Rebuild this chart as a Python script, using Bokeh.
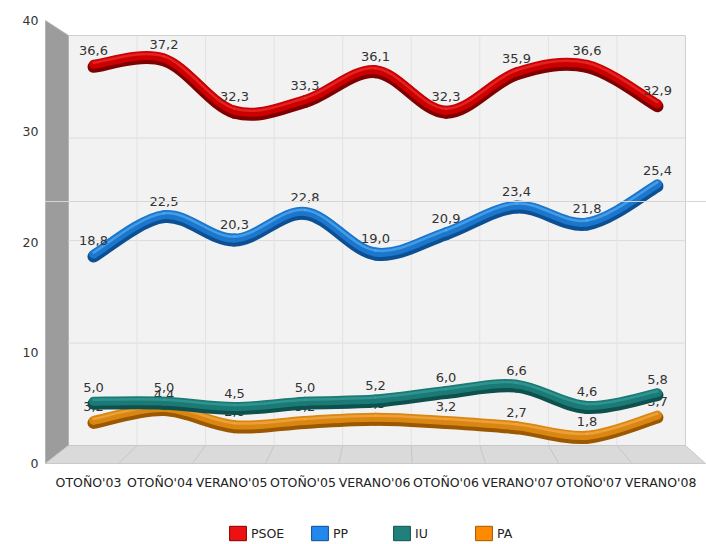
import numpy as np
from bokeh.plotting import figure
from bokeh.layouts import column
from bokeh.models import (FixedTicker, Legend, LegendItem, Range1d, LinearAxis,
                          Span, ColumnDataSource)
from bokeh.core.properties import value
from bokeh.embed import file_html
from bokeh.resources import INLINE

# ---------------- data ----------------
categories = ["OTOÑO'03", "OTOÑO'04", "VERANO'05", "OTOÑO'05", "VERANO'06",
              "OTOÑO'06", "VERANO'07", "OTOÑO'07", "VERANO'08"]
psoe = [36.6, 37.2, 32.3, 33.3, 36.1, 32.3, 35.9, 36.6, 32.9]
pp = [18.8, 22.5, 20.3, 22.8, 19.0, 20.9, 23.4, 21.8, 25.4]
iu = [5.0, 5.0, 4.5, 5.0, 5.2, 6.0, 6.6, 4.6, 5.8]
pa = [3.2, 4.4, 2.8, 3.2, 3.5, 3.2, 2.7, 1.8, 3.7]
y_ticks = [0, 10, 20, 30, 40]
series_names = ["PSOE", "PP", "IU", "PA"]

# ---------------- geometry / style ----------------
X0, X1, Y0, Y1 = -0.695, 8.695, -1.50, 41.46
# 3D box: back wall and front edge in data units
XB0, XB1, YB0, YB1 = -0.355, 8.397, 0.84, 39.30
XF0, XF1, YF0, YF1 = -0.681, 8.68, -0.84, 40.70
FRONT_A, FRONT_S = -0.84, (YF1 - YF0) / 40.0
FX_A, FX_S = 5.0 / 71.5, 70.5 / 71.5   # front-edge category spacing
PXY = (Y1 - Y0) / 458.0   # data units per pixel (vertical)

p = figure(width=706, height=506, x_range=Range1d(X0, X1),
           y_range=Range1d(Y0, Y1), output_backend="svg", toolbar_location=None,
           x_axis_location=None, y_axis_location=None, min_border_left=44,
           min_border_right=0, min_border_top=12, min_border_bottom=36)
p.outline_line_color = None
p.grid.visible = False
p.background_fill_color = "white"

# front-scale axes for the tick labels
p.extra_y_ranges = {"front": Range1d((Y0 - FRONT_A) / FRONT_S, (Y1 - FRONT_A) / FRONT_S)}
p.extra_x_ranges = {"front": Range1d(FX_A + FX_S * X0, FX_A + FX_S * X1)}
yax = LinearAxis(y_range_name="front", ticker=FixedTicker(ticks=y_ticks))
yax.axis_line_color = None
yax.major_tick_line_color = None
yax.minor_tick_line_color = None
yax.major_tick_out = 0
yax.major_tick_in = 0
yax.major_label_text_font = "DejaVu Sans"
yax.major_label_text_font_size = "12.5px"
yax.major_label_text_color = "#333333"
yax.major_label_standoff = 6
p.add_layout(yax, "left")

xax = LinearAxis(x_range_name="front", ticker=FixedTicker(ticks=list(range(len(categories)))))
xax.major_label_overrides = {i: c for i, c in enumerate(categories)}
xax.axis_line_color = None
xax.major_tick_line_color = None
xax.minor_tick_line_color = None
xax.major_tick_out = 0
xax.major_tick_in = 0
xax.major_label_text_font = "DejaVu Sans"
xax.major_label_text_font_size = "12.5px"
xax.major_label_text_color = "#222222"
xax.major_label_standoff = 4
p.add_layout(xax, "below")

# back wall
p.quad(left=[XB0], right=[XB1], bottom=[YB0], top=[YB1], fill_color="#f2f2f2",
       line_color="#d0d0d0", line_width=1)
# side wall
p.patch([XF0, XF0, XB0, XB0], [YF0, YF1, YB1, YB0], fill_color="#9c9c9c",
        line_color="#b4b4b4", line_width=1)
# floor
p.patch([XB0, XB1, XF1, XF0], [YB0, YB0, YF0, YF0], fill_color="#dadada",
        line_color="#c8c8c8", line_width=1)
# horizontal gridlines on back wall
for v in y_ticks[1:-1]:
    yy = YB0 + v * (YB1 - YB0) / 40.0
    p.line([XB0, XB1], [yy, yy], line_color="#dcdcdc", line_width=1)
# vertical gridlines + floor diagonals
n = len(categories)
for k in range(1, n):
    xb = XB0 + k * (XB1 - XB0) / n
    xf = XF0 + k * (XF1 - XF0) / n
    p.line([xb, xb], [YB0, YB1], line_color="#e2e2e2", line_width=1)
    p.line([xb, xf], [YB0, YF0], line_color="#c6c6c6", line_width=1)


def bez(vals):
    xs = list(range(len(vals)))
    P = list(zip(xs, vals))
    m = len(P)
    out = dict(x0=[], y0=[], x1=[], y1=[], cx0=[], cy0=[], cx1=[], cy1=[])
    for i in range(m - 1):
        pm = P[i - 1] if i > 0 else P[i]
        p0, p1 = P[i], P[i + 1]
        p2 = P[i + 2] if i + 2 < m else P[i + 1]
        out["x0"].append(p0[0]); out["y0"].append(p0[1])
        out["x1"].append(p1[0]); out["y1"].append(p1[1])
        out["cx0"].append(p0[0] + (p1[0] - pm[0]) / 6.0)
        out["cy0"].append(p0[1] + (p1[1] - pm[1]) / 6.0)
        out["cx1"].append(p1[0] - (p2[0] - p0[0]) / 6.0)
        out["cy1"].append(p1[1] - (p2[1] - p0[1]) / 6.0)
    return out


def shifted(d, dy):
    return {k: ([y + dy for y in v] if k.startswith(("y", "cy")) else v) for k, v in d.items()}


styles = {
    "PSOE": dict(vals=psoe, dark="#7e0000", main="#cc0000", light="#ec3030", leg="#ee1111"),
    "PP": dict(vals=pp, dark="#0c4f92", main="#1c76cc", light="#52aef5", leg="#2288ee"),
    "IU": dict(vals=iu, dark="#0d504d", main="#1b7a76", light="#38a09a", leg="#21807a"),
    "PA": dict(vals=pa, dark="#9c5800", main="#d98612", light="#f5ab45", leg="#ff8a00"),
}

for name in ["PSOE", "PP", "PA", "IU"]:
    s = styles[name]
    d = bez(s["vals"])
    p.bezier(source=ColumnDataSource(shifted(d, -2.5 * PXY)), x0="x0", y0="y0", x1="x1",
             y1="y1", cx0="cx0", cy0="cy0", cx1="cx1", cy1="cy1",
             line_color=s["dark"], line_width=12, line_cap="round")
    p.bezier(source=ColumnDataSource(d), x0="x0", y0="y0", x1="x1", y1="y1",
             cx0="cx0", cy0="cy0", cx1="cx1", cy1="cy1",
             line_color=s["main"], line_width=9, line_cap="round")
    p.bezier(source=ColumnDataSource(shifted(d, 1.5 * PXY)), x0="x0", y0="y0", x1="x1",
             y1="y1", cx0="cx0", cy0="cy0", cx1="cx1", cy1="cy1",
             line_color=s["light"], line_width=2.5, line_cap="round", line_alpha=0.7)
    labels = [f"{v:.1f}".replace(".", ",") for v in s["vals"]]
    p.text(x=list(range(n)), y=s["vals"], text=labels, text_align="center",
           text_baseline="bottom", y_offset=-9, text_font=value("DejaVu Sans"),
           text_font_size="13px", text_color="#333333")

# faint rule crossing the picture
p.add_layout(Span(location=23.73, dimension="width", line_color="#d6d6d6", line_width=1))

# ---------------- legend strip ----------------
lg = figure(width=706, height=38, x_range=Range1d(0, 1), y_range=Range1d(0, 1),
            output_backend="svg", toolbar_location=None, min_border=0,
            x_axis_location=None, y_axis_location=None)
lg.outline_line_color = None
lg.grid.visible = False
items = []
for name in series_names:
    r = lg.quad(left=[np.nan], right=[np.nan], top=[np.nan], bottom=[np.nan],
                fill_color=styles[name]["leg"], line_color=styles[name]["dark"])
    items.append(LegendItem(label=name, renderers=[r]))
legend = Legend(items=items, orientation="horizontal", location=(183, 2),
                border_line_color=None, background_fill_alpha=0,
                label_text_font="DejaVu Sans", label_text_font_size="12.5px",
                label_text_color="#222222", glyph_width=21, glyph_height=18,
                label_standoff=3, label_width=52, spacing=6, padding=0, margin=0)
lg.add_layout(legend)

layout = column(p, lg, spacing=0)
open("out.html", "w").write(file_html(layout, INLINE))
